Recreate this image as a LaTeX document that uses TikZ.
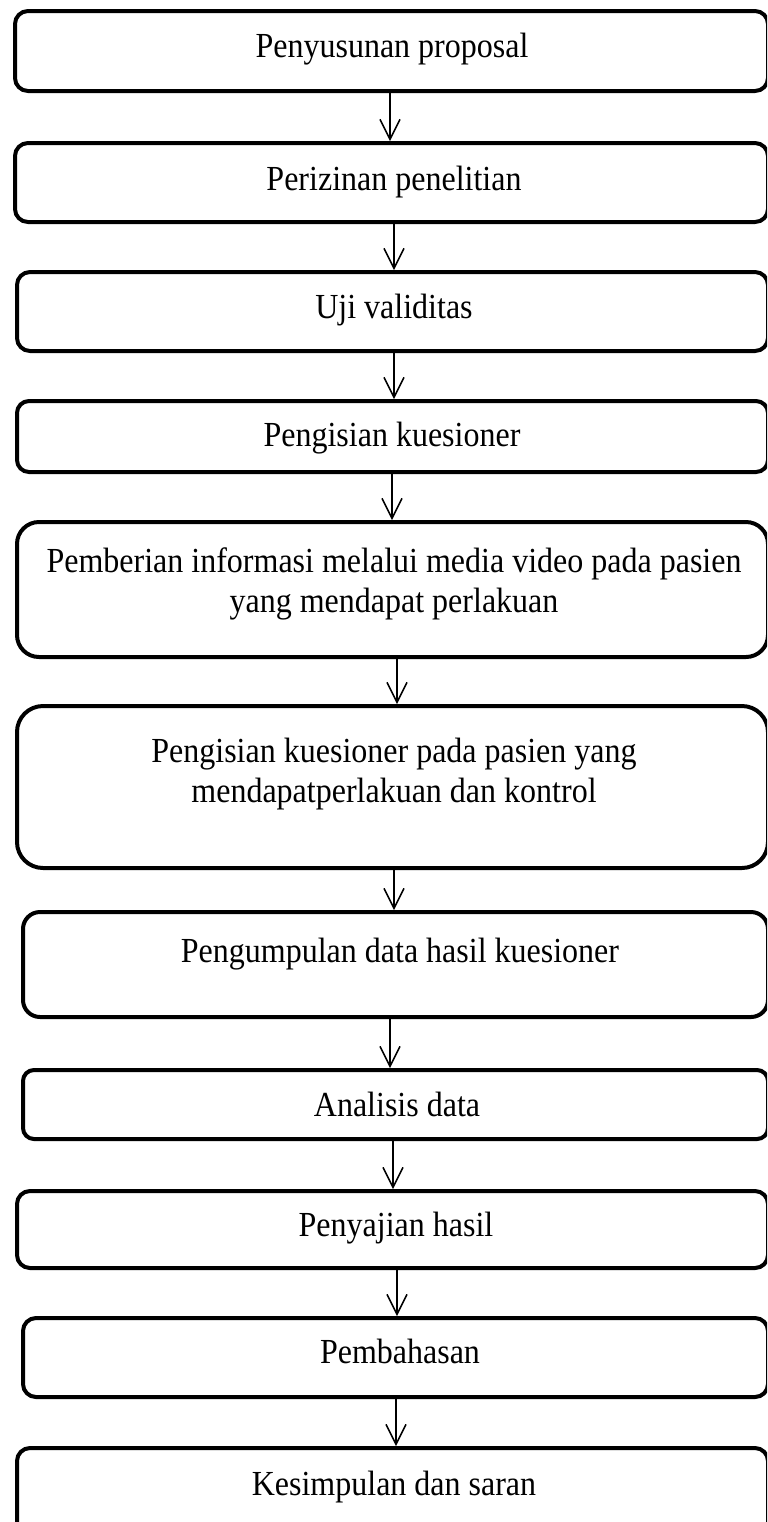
\documentclass[tikz,border=0pt]{standalone}
\usepackage{fontspec}
\setmainfont{Liberation Serif}
\usetikzlibrary{arrows.meta}
\newcommand\stretched[1]{\scalebox{1}[1.1]{#1}}
\tikzset{
  stepbox/.style={draw=black, line width=2pt, rectangle, inner sep=0pt, fill=none},
  lbl/.style={inner sep=0pt, font=\fontsize{16}{18.6}\selectfont, anchor=base},
  mlbl/.style={inner sep=0pt, font=\fontsize{16}{18.6}\selectfont, anchor=center},
  flow/.style={draw=black, line width=0.75pt, -{Straight Barb[length=10pt,width=10pt,line width=0.75pt]}}
}
\begin{document}
\begin{tikzpicture}[x=0.5pt,y=-0.5pt]
\useasboundingbox (0,0) rectangle (767,1522);
\clip (0,0) rectangle (767,1522);
\fill[white] (0,0) rectangle (767,1522);
% boxes
\node[stepbox, minimum width=376.5pt, minimum height=40pt, rounded corners=6.5pt] (b1) at (391.5,51) {};
\node[stepbox, minimum width=376.5pt, minimum height=39.5pt, rounded corners=6.5pt] (b2) at (391.5,182.5) {};
\node[stepbox, minimum width=375.5pt, minimum height=39.5pt, rounded corners=6.5pt] (b3) at (392.5,311.5) {};
\node[stepbox, minimum width=375.5pt, minimum height=35.5pt, rounded corners=6pt] (b4) at (392.5,436.5) {};
\node[stepbox, minimum width=375.5pt, minimum height=67.5pt, rounded corners=11pt] (b5) at (392.5,589.5) {};
\node[stepbox, minimum width=375.5pt, minimum height=81pt, rounded corners=13pt] (b6) at (392.5,787) {};
\node[stepbox, minimum width=372.5pt, minimum height=52.5pt, rounded corners=8.5pt] (b7) at (395.5,964.5) {};
\node[stepbox, minimum width=372.5pt, minimum height=34.5pt, rounded corners=5.5pt] (b8) at (395.5,1104.5) {};
\node[stepbox, minimum width=375.5pt, minimum height=38.5pt, rounded corners=6.5pt] (b9) at (392.5,1229.5) {};
\node[stepbox, minimum width=372.5pt, minimum height=39.5pt, rounded corners=6.5pt] (b10) at (395.5,1357.5) {};
\node[stepbox, minimum width=375.5pt, minimum height=46pt, rounded corners=6.5pt] (b11) at (392.5,1494) {};
% labels
\node[lbl] (t1) at (392,57) {\stretched{Penyusunan proposal}};
\node[lbl] (t2) at (394,190) {\stretched{Perizinan penelitian}};
\node[lbl] (t3) at (394,318) {\stretched{Uji validitas}};
\node[lbl] (t4) at (392,446) {\stretched{Pengisian kuesioner}};
\node[mlbl] (t5) at (394,584.3) {\stretched{\begin{tabular}{@{}c@{}}Pemberian informasi melalui media video pada pasien\\yang mendapat perlakuan\end{tabular}}};
\node[mlbl] (t6) at (394,774.3) {\stretched{\begin{tabular}{@{}c@{}}Pengisian kuesioner pada pasien yang\\mendapatperlakuan dan kontrol\end{tabular}}};
\node[lbl] (t7) at (400,962) {\stretched{Pengumpulan data hasil kuesioner}};
\node[lbl] (t8) at (397,1116) {\stretched{Analisis data}};
\node[lbl] (t9) at (396,1236) {\stretched{Penyajian hasil}};
\node[lbl] (t10) at (400,1363) {\stretched{Pembahasan}};
\node[lbl] (t11) at (394,1495) {\stretched{Kesimpulan dan saran}};
% arrows
\draw[flow] ([xshift=-0.75pt]b1.south) -- ([xshift=-0.75pt]b2.north);
\draw[flow] ([xshift=1.25pt]b2.south) -- ([xshift=0.75pt]b3.north);
\draw[flow] ([xshift=0.75pt]b3.south) -- ([xshift=0.75pt]b4.north);
\draw[flow] ([xshift=-0.25pt]b4.south) -- ([xshift=-0.25pt]b5.north);
\draw[flow] ([xshift=2.25pt]b5.south) -- ([xshift=2.25pt]b6.north);
\draw[flow] ([xshift=0.75pt]b6.south) -- ([xshift=-0.75pt]b7.north);
\draw[flow] ([xshift=-2.75pt]b7.south) -- ([xshift=-2.75pt]b8.north);
\draw[flow] ([xshift=-1.25pt]b8.south) -- ([xshift=0.25pt]b9.north);
\draw[flow] ([xshift=2.25pt]b9.south) -- ([xshift=0.75pt]b10.north);
\draw[flow] ([xshift=0.25pt]b10.south) -- ([xshift=1.75pt]b11.north);
\end{tikzpicture}
\end{document}
